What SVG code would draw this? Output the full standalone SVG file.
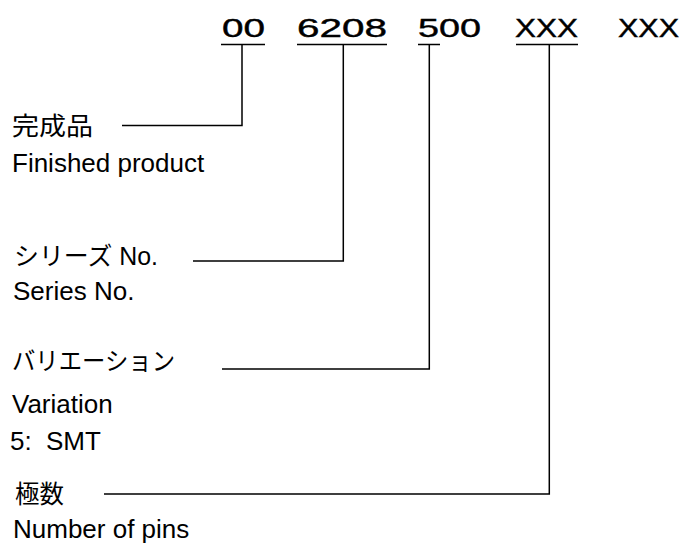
<svg xmlns="http://www.w3.org/2000/svg" width="681" height="543" viewBox="0 0 681 543">
<style>
.code{font-family:"Liberation Sans",Arial,sans-serif;font-size:25.5px;fill:#000;stroke:#000;stroke-width:0.4}
.jp{font-family:"Liberation Sans","Noto Sans CJK JP",sans-serif;font-size:25px;fill:#000}
.en{font-family:"Liberation Sans",Arial,sans-serif;font-size:26px;fill:#000}
.ln{fill:none;stroke:#000;stroke-width:1.5}
</style>
<rect width="681" height="543" fill="#fff"/>
<g id="code">
<text class="code" x="222" y="37" textLength="43" lengthAdjust="spacingAndGlyphs">00</text>
<text class="code" x="297" y="37" textLength="90" lengthAdjust="spacingAndGlyphs">6208</text>
<text class="code" x="418" y="37" textLength="63" lengthAdjust="spacingAndGlyphs">500</text>
<text class="code" x="515" y="37" textLength="63" lengthAdjust="spacingAndGlyphs">XXX</text>
<text class="code" x="618" y="37" textLength="61" lengthAdjust="spacingAndGlyphs">XXX</text>
<path class="ln" d="M221,44.5H265M297,44.5H387M418,44.5H440M516,44.5H578"/>
</g>
<g id="connectors">
<path class="ln" d="M242,44V125.5H122"/>
<path class="ln" d="M343.3,44V261H193"/>
<path class="ln" d="M429.3,44V369H222"/>
<path class="ln" d="M549.3,44V494H104"/>
</g>
<g id="finished">
<text class="jp" x="12" y="135" textLength="81" lengthAdjust="spacingAndGlyphs">完成品</text>
<text class="en" x="12" y="172">Finished product</text>
</g>
<g id="series">
<text class="jp" x="14" y="265" textLength="144" lengthAdjust="spacingAndGlyphs">シリーズ No.</text>
<text class="en" x="13" y="300">Series No.</text>
</g>
<g id="variation">
<text class="jp" x="12" y="370" textLength="163" lengthAdjust="spacingAndGlyphs">バリエーション</text>
<text class="en" x="12" y="413">Variation</text>
<text class="en" x="10" y="450">5: <tspan x="46">SMT</tspan></text>
</g>
<g id="pins">
<text class="jp" x="15" y="503" textLength="49" lengthAdjust="spacingAndGlyphs">極数</text>
<text class="en" x="13" y="538">Number of pins</text>
</g>
</svg>
